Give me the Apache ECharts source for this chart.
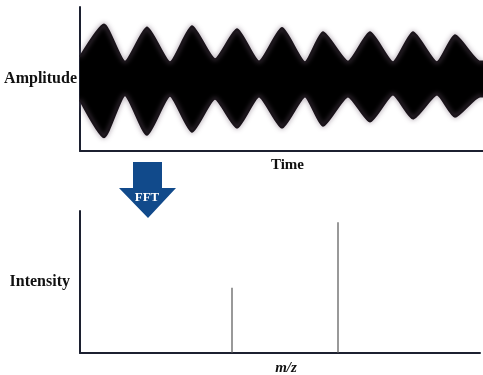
<!DOCTYPE html>
<html>
<head>
<meta charset="utf-8">
<script src="https://cdn.jsdelivr.net/npm/echarts@6/dist/echarts.min.js"></script>
<style>html,body{margin:0;padding:0;background:#fff}#c{width:483px;height:375px}</style>
</head>
<body>
<div id="c"></div>
<script>
// Time-domain envelope (read at edges, peaks and waists)
const envTime  = [0, 24, 45, 67, 90, 112, 135, 157, 179, 202, 225, 243, 268, 290, 313, 333, 357, 375, 400, 403];
const envUpper = [0.37, 0.91, 0.29, 0.86, 0.28, 0.88, 0.33, 0.83, 0.29, 0.85, 0.28, 0.78, 0.29, 0.78, 0.28, 0.78, 0.28, 0.73, 0.29, 0.29];
const envLower = [-0.35, -0.97, -0.27, -0.93, -0.28, -0.88, -0.33, -0.81, -0.29, -0.81, -0.29, -0.78, -0.29, -0.71, -0.26, -0.66, -0.26, -0.63, -0.29, -0.29];
// Frequency-domain peaks
const mzValues = [152, 258];
const intensities = [0.46, 0.92];

const axisColor = '#1c2030';
const fontFam = '"Liberation Serif", "Times New Roman", serif';

const chart = echarts.init(document.getElementById('c'));
const axisCommon = {
  axisLine: { show: true, onZero: false, lineStyle: { color: axisColor, width: 2 } },
  axisTick: { show: false }, axisLabel: { show: false }, splitLine: { show: false }
};
const envLine = { color: '#1a141a', width: 2, shadowBlur: 5, shadowColor: 'rgba(110,90,110,0.9)' };
chart.setOption({
  animation: false,
  grid: [
    { left: 80, right: 0, top: 7, height: 144, outerBoundsMode: 'none', containLabel: false },
    { left: 80, right: 3, top: 211, height: 142, outerBoundsMode: 'none', containLabel: false }
  ],
  xAxis: [
    Object.assign({ type: 'value', gridIndex: 0, min: 0, max: 403,
      name: 'Time', nameLocation: 'middle', nameGap: 7,
      nameTextStyle: { fontFamily: fontFam, fontWeight: 'bold', fontSize: 15, color: '#111', padding: [0, 0, 0, 12] } }, axisCommon),
    Object.assign({ type: 'value', gridIndex: 1, min: 0, max: 400,
      name: 'm/z', nameLocation: 'middle', nameGap: 8,
      nameTextStyle: { fontFamily: fontFam, fontWeight: 'bold', fontStyle: 'italic', fontSize: 15, color: '#111', padding: [0, 0, 0, 12] } }, axisCommon)
  ],
  yAxis: [
    Object.assign({ type: 'value', gridIndex: 0, min: -1.2, max: 1.2,
      name: 'Amplitude', nameLocation: 'middle', nameRotate: 0, nameGap: 3,
      nameTextStyle: { fontFamily: fontFam, fontWeight: 'bold', fontSize: 16, color: '#111', padding: [0, 0, 6, 0] } }, axisCommon),
    Object.assign({ type: 'value', gridIndex: 1, min: 0, max: 1,
      name: 'Intensity', nameLocation: 'middle', nameRotate: 0, nameGap: 10,
      nameTextStyle: { fontFamily: fontFam, fontWeight: 'bold', fontSize: 16, color: '#111' } }, axisCommon)
  ],
  series: [
    { type: 'line', xAxisIndex: 0, yAxisIndex: 0, showSymbol: false, smooth: 0.2,
      data: envTime.map((t, i) => [t, envUpper[i]]),
      lineStyle: envLine,
      areaStyle: { color: '#000', opacity: 1, origin: 'auto' }, z: 1 },
    { type: 'line', xAxisIndex: 0, yAxisIndex: 0, showSymbol: false, smooth: 0.2,
      data: envTime.map((t, i) => [t, envLower[i]]),
      lineStyle: envLine,
      areaStyle: { color: '#000', opacity: 1, origin: 'auto' }, z: 1 },
    { type: 'bar', xAxisIndex: 1, yAxisIndex: 1, barWidth: 1.2,
      data: mzValues.map((m, i) => [m, intensities[i]]),
      itemStyle: { color: '#555' } }
  ],
  graphic: [
    { type: 'polygon', shape: { points: [[133,162],[162,162],[162,188],[176,188],[148,218],[119,188],[133,188]] },
      style: { fill: '#114a8b' } },
    { type: 'text', x: 147, y: 198, style: { text: 'FFT', fill: '#fff', font: 'bold 13px ' + fontFam, align: 'center', verticalAlign: 'middle' } }
  ]
});
</script>
</body>
</html>
